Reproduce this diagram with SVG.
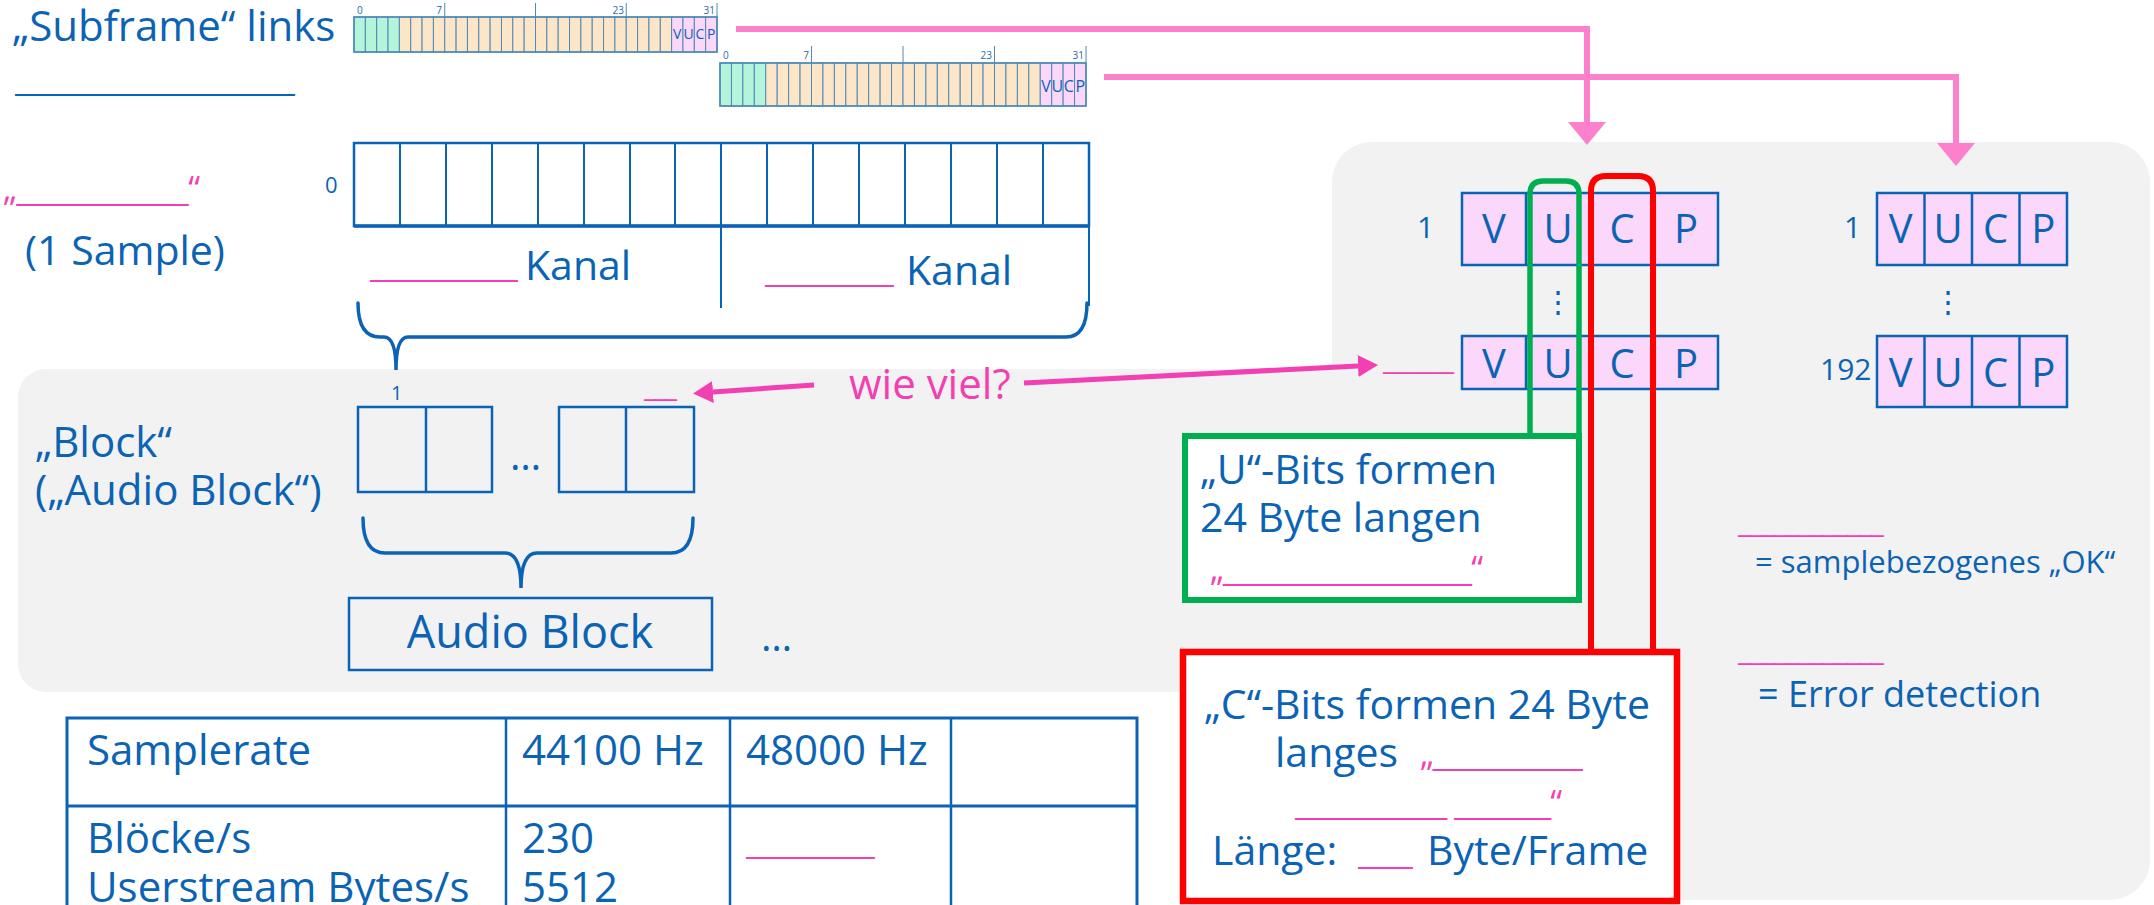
<svg xmlns="http://www.w3.org/2000/svg" width="2154" height="905" viewBox="0 0 2154 905">
<style>
  text { font-family: "Open Sans", "Liberation Sans", sans-serif; }
  .b { fill: #0b63b5; }
  .pk { fill: #f23fb2; }
  .t42 { font-size: 42px; }
  .t41 { font-size: 41px; }
  .t40 { font-size: 40px; }
  .line { fill: none; stroke: #0b63b5; stroke-width: 2.5; }
  .brace { fill: none; stroke: #0b63b5; stroke-width: 3.5; stroke-linecap: round; }
  .cellg { fill: #b4f4da; stroke: #4d8ab8; stroke-width: 1; }
  .cello { fill: #fde6c8; stroke: #4d8ab8; stroke-width: 1; }
  .cellp { fill: #fbd7fa; stroke: #4d8ab8; stroke-width: 1; }
  .sfl { font-size: 10px; fill: #2a6aa8; }
  .vucp { fill: #fbd8fb; stroke: #0b63b5; stroke-width: 2.5; }
  .lt { font-size: 40px; fill: #0b63b5; text-anchor: middle; }
  .toparr { fill: none; stroke: #fc80cc; stroke-width: 6; }
  .magarr { fill: none; stroke: #f23fb2; stroke-width: 5; }
</style>
<defs>
  <marker id="ahTop" markerUnits="userSpaceOnUse" markerWidth="24" markerHeight="40" viewBox="0 0 24 40" refX="0" refY="20" orient="auto">
    <path d="M0,1 L23,20 L0,39 z" fill="#fc80cc"/>
  </marker>
  <marker id="ahMag" markerUnits="userSpaceOnUse" markerWidth="20" markerHeight="22" viewBox="0 0 20 22" refX="0" refY="11" orient="auto">
    <path d="M0,0 L20,11 L0,22 z" fill="#f23fb2"/>
  </marker>
</defs>

<!-- background panels -->
<g id="panels">
  <rect x="18" y="369" width="1400" height="323" rx="28" fill="#f2f2f2"/>
  <rect x="1332" y="142" width="818" height="758" rx="40" fill="#f2f2f2"/>
</g>

<!-- Title -->
<g id="title">
  <text class="b t42" x="12" y="41">„Subframe“ links</text>
  <text class="b" x="15" y="91" font-size="34" textLength="280" lengthAdjust="spacing">_____________________</text>
</g>

<!-- Subframe 1 -->
<g id="subframe1">
  <g>
    <rect class="cellg" x="354" y="17" width="11.344" height="35"/>
    <rect class="cellg" x="365.344" y="17" width="11.344" height="35"/>
    <rect class="cellg" x="376.688" y="17" width="11.344" height="35"/>
    <rect class="cellg" x="388.031" y="17" width="11.344" height="35"/>
    <rect class="cello" x="399.375" y="17" width="11.344" height="35"/>
    <rect class="cello" x="410.719" y="17" width="11.344" height="35"/>
    <rect class="cello" x="422.063" y="17" width="11.344" height="35"/>
    <rect class="cello" x="433.406" y="17" width="11.344" height="35"/>
    <rect class="cello" x="444.75" y="17" width="11.344" height="35"/>
    <rect class="cello" x="456.094" y="17" width="11.344" height="35"/>
    <rect class="cello" x="467.438" y="17" width="11.344" height="35"/>
    <rect class="cello" x="478.781" y="17" width="11.344" height="35"/>
    <rect class="cello" x="490.125" y="17" width="11.344" height="35"/>
    <rect class="cello" x="501.469" y="17" width="11.344" height="35"/>
    <rect class="cello" x="512.813" y="17" width="11.344" height="35"/>
    <rect class="cello" x="524.156" y="17" width="11.344" height="35"/>
    <rect class="cello" x="535.5" y="17" width="11.344" height="35"/>
    <rect class="cello" x="546.844" y="17" width="11.344" height="35"/>
    <rect class="cello" x="558.188" y="17" width="11.344" height="35"/>
    <rect class="cello" x="569.531" y="17" width="11.344" height="35"/>
    <rect class="cello" x="580.875" y="17" width="11.344" height="35"/>
    <rect class="cello" x="592.219" y="17" width="11.344" height="35"/>
    <rect class="cello" x="603.563" y="17" width="11.344" height="35"/>
    <rect class="cello" x="614.906" y="17" width="11.344" height="35"/>
    <rect class="cello" x="626.25" y="17" width="11.344" height="35"/>
    <rect class="cello" x="637.594" y="17" width="11.344" height="35"/>
    <rect class="cello" x="648.938" y="17" width="11.344" height="35"/>
    <rect class="cello" x="660.281" y="17" width="11.344" height="35"/>
    <rect class="cellp" x="671.625" y="17" width="11.344" height="35"/>
    <rect class="cellp" x="682.969" y="17" width="11.344" height="35"/>
    <rect class="cellp" x="694.313" y="17" width="11.344" height="35"/>
    <rect class="cellp" x="705.656" y="17" width="11.344" height="35"/>
  </g>
  <rect x="354" y="17" width="363" height="35" fill="none" stroke="#4d8ab8" stroke-width="1.6"/>
  <g stroke="#4d8ab8" stroke-width="1">
    <line x1="444.75" y1="3" x2="444.75" y2="17"/>
    <line x1="535.5" y1="3" x2="535.5" y2="17"/>
    <line x1="626.25" y1="3" x2="626.25" y2="17"/>
    <line x1="717" y1="3" x2="717" y2="17"/>
  </g>
  <text class="sfl" x="357" y="14">0</text>
  <text class="sfl" x="442" y="14" text-anchor="end">7</text>
  <text class="sfl" x="624" y="14" text-anchor="end">23</text>
  <text class="sfl" x="715" y="14" text-anchor="end">31</text>
  <g font-size="14" fill="#0b63b5" text-anchor="middle">
    <text x="677.3" y="39">V</text>
    <text x="688.6" y="39">U</text>
    <text x="700" y="39">C</text>
    <text x="711.3" y="39">P</text>
  </g>
</g>

<!-- Subframe 2 -->
<g id="subframe2">
  <g>
    <rect class="cellg" x="720" y="63" width="11.438" height="43"/>
    <rect class="cellg" x="731.438" y="63" width="11.438" height="43"/>
    <rect class="cellg" x="742.875" y="63" width="11.438" height="43"/>
    <rect class="cellg" x="754.313" y="63" width="11.438" height="43"/>
    <rect class="cello" x="765.75" y="63" width="11.438" height="43"/>
    <rect class="cello" x="777.188" y="63" width="11.438" height="43"/>
    <rect class="cello" x="788.625" y="63" width="11.438" height="43"/>
    <rect class="cello" x="800.063" y="63" width="11.438" height="43"/>
    <rect class="cello" x="811.5" y="63" width="11.438" height="43"/>
    <rect class="cello" x="822.938" y="63" width="11.438" height="43"/>
    <rect class="cello" x="834.375" y="63" width="11.438" height="43"/>
    <rect class="cello" x="845.813" y="63" width="11.438" height="43"/>
    <rect class="cello" x="857.25" y="63" width="11.438" height="43"/>
    <rect class="cello" x="868.688" y="63" width="11.438" height="43"/>
    <rect class="cello" x="880.125" y="63" width="11.438" height="43"/>
    <rect class="cello" x="891.563" y="63" width="11.438" height="43"/>
    <rect class="cello" x="903" y="63" width="11.438" height="43"/>
    <rect class="cello" x="914.438" y="63" width="11.438" height="43"/>
    <rect class="cello" x="925.875" y="63" width="11.438" height="43"/>
    <rect class="cello" x="937.313" y="63" width="11.438" height="43"/>
    <rect class="cello" x="948.75" y="63" width="11.438" height="43"/>
    <rect class="cello" x="960.188" y="63" width="11.438" height="43"/>
    <rect class="cello" x="971.625" y="63" width="11.438" height="43"/>
    <rect class="cello" x="983.063" y="63" width="11.438" height="43"/>
    <rect class="cello" x="994.5" y="63" width="11.438" height="43"/>
    <rect class="cello" x="1005.938" y="63" width="11.438" height="43"/>
    <rect class="cello" x="1017.375" y="63" width="11.438" height="43"/>
    <rect class="cello" x="1028.813" y="63" width="11.438" height="43"/>
    <rect class="cellp" x="1040.25" y="63" width="11.438" height="43"/>
    <rect class="cellp" x="1051.688" y="63" width="11.438" height="43"/>
    <rect class="cellp" x="1063.125" y="63" width="11.438" height="43"/>
    <rect class="cellp" x="1074.563" y="63" width="11.438" height="43"/>
  </g>
  <rect x="720" y="63" width="366" height="43" fill="none" stroke="#4d8ab8" stroke-width="1.6"/>
  <g stroke="#4d8ab8" stroke-width="1">
    <line x1="811.5" y1="46" x2="811.5" y2="63"/>
    <line x1="903" y1="46" x2="903" y2="63"/>
    <line x1="994.5" y1="46" x2="994.5" y2="63"/>
    <line x1="1086" y1="46" x2="1086" y2="63"/>
  </g>
  <text class="sfl" x="723" y="59">0</text>
  <text class="sfl" x="809" y="59" text-anchor="end">7</text>
  <text class="sfl" x="992" y="59" text-anchor="end">23</text>
  <text class="sfl" x="1084" y="59" text-anchor="end">31</text>
  <g font-size="16" fill="#0b63b5" text-anchor="middle">
    <text x="1046" y="92">V</text>
    <text x="1057.4" y="92">U</text>
    <text x="1068.8" y="92">C</text>
    <text x="1080.3" y="92">P</text>
  </g>
</g>

<!-- Sample label -->
<g id="sample-label">
  <text class="pk" x="3" y="201" font-size="34" textLength="197" lengthAdjust="spacing">„____________“</text>
  <text class="b t41" x="25" y="265">(1 Sample)</text>
</g>

<!-- Sample box (16 cells) -->
<g id="sample-box">
  <text class="b" x="325" y="193" font-size="22">0</text>
  <rect x="354" y="143" width="735" height="83" fill="#ffffff" stroke="#0b63b5" stroke-width="2.5"/>
  <g stroke="#0b63b5" stroke-width="2">
    <line x1="400" y1="143" x2="400" y2="226"/>
    <line x1="446" y1="143" x2="446" y2="226"/>
    <line x1="492" y1="143" x2="492" y2="226"/>
    <line x1="538" y1="143" x2="538" y2="226"/>
    <line x1="584" y1="143" x2="584" y2="226"/>
    <line x1="630" y1="143" x2="630" y2="226"/>
    <line x1="675" y1="143" x2="675" y2="226"/>
    <line x1="721" y1="143" x2="721" y2="226"/>
    <line x1="767" y1="143" x2="767" y2="226"/>
    <line x1="813" y1="143" x2="813" y2="226"/>
    <line x1="859" y1="143" x2="859" y2="226"/>
    <line x1="905" y1="143" x2="905" y2="226"/>
    <line x1="951" y1="143" x2="951" y2="226"/>
    <line x1="997" y1="143" x2="997" y2="226"/>
    <line x1="1043" y1="143" x2="1043" y2="226"/>
  </g>
  <line x1="354" y1="226" x2="1089" y2="226" stroke="#0b63b5" stroke-width="3.5"/>
  <line x1="721" y1="226" x2="721" y2="308" stroke="#0b63b5" stroke-width="2"/>
  <line x1="1089" y1="226" x2="1089" y2="306" stroke="#0b63b5" stroke-width="2"/>
  <text class="pk" x="370" y="277" font-size="34" textLength="148" lengthAdjust="spacing">___________</text>
  <text class="b t41" x="525" y="280">Kanal</text>
  <text class="pk" x="765" y="282" font-size="34" textLength="129" lengthAdjust="spacing">__________</text>
  <text class="b t41" x="906" y="285">Kanal</text>
</g>

<!-- Brace under sample -->
<g id="brace-sample">
  <path class="brace" d="M358,303 Q358,337 380,337 L384,337 Q396,337 396,370 Q396,337 408,337 L1066,337 Q1087,337 1087,303"/>
</g>

<!-- Block -->
<g id="block-label">
  <text class="b t42" x="35" y="457">„Block“</text>
  <text class="b t42" x="35" y="505">(„Audio Block“)</text>
</g>

<g id="block">
  <text class="b" x="391" y="400" font-size="20">1</text>
  <rect class="line" x="358" y="407" width="134" height="85"/>
  <line class="line" x1="426" y1="407" x2="426" y2="492"/>
  <text class="b t40" x="510" y="470">…</text>
  <rect class="line" x="559" y="407" width="135" height="85"/>
  <line class="line" x1="626" y1="407" x2="626" y2="492"/>
  <text class="pk" x="644" y="397" font-size="28" textLength="33" lengthAdjust="spacing">___</text>
</g>

<g id="brace-block">
  <path class="brace" d="M363,518 Q363,553 385,553 L505,553 Q521,553 521,588 Q521,553 537,553 L671,553 Q693,553 693,518"/>
</g>

<g id="audio-block">
  <rect class="line" x="349" y="598" width="363" height="72"/>
  <text class="b" x="530" y="648" font-size="45" text-anchor="middle">Audio Block</text>
  <text class="b t40" x="761" y="651">…</text>
</g>

<!-- wie viel -->
<g id="wie-viel">
  <text class="pk" x="849" y="399" font-size="42">wie viel?</text>
</g>

<!-- Right group: channel 1 -->
<g id="vucp-left">
  <text class="b" x="1417" y="238" font-size="30">1</text>
  <rect class="vucp" x="1462" y="193" width="256" height="72"/>
  <line class="line" x1="1526" y1="193" x2="1526" y2="265"/>
  <line class="line" x1="1590" y1="193" x2="1590" y2="265"/>
  <line class="line" x1="1654" y1="193" x2="1654" y2="265"/>
  <text class="lt" x="1494" y="243">V</text>
  <text class="lt" x="1558" y="243">U</text>
  <text class="lt" x="1622" y="243">C</text>
  <text class="lt" x="1686" y="243">P</text>
  <text x="1558" y="312" font-family="DejaVu Sans, sans-serif" font-size="30" fill="#0b63b5" text-anchor="middle">⋮</text>
  <text class="pk" x="1383" y="370" font-size="28" textLength="71" lengthAdjust="spacing">______</text>
  <rect class="vucp" x="1462" y="336" width="256" height="53"/>
  <line class="line" x1="1526" y1="336" x2="1526" y2="389"/>
  <line class="line" x1="1590" y1="336" x2="1590" y2="389"/>
  <line class="line" x1="1654" y1="336" x2="1654" y2="389"/>
  <text class="lt" x="1494" y="378">V</text>
  <text class="lt" x="1558" y="378">U</text>
  <text class="lt" x="1622" y="378">C</text>
  <text class="lt" x="1686" y="378">P</text>
</g>

<!-- Right group: channel 2 -->
<g id="vucp-right">
  <text class="b" x="1844" y="238" font-size="30">1</text>
  <rect class="vucp" x="1877" y="193" width="190" height="72"/>
  <line class="line" x1="1924.5" y1="193" x2="1924.5" y2="265"/>
  <line class="line" x1="1972" y1="193" x2="1972" y2="265"/>
  <line class="line" x1="2019.5" y1="193" x2="2019.5" y2="265"/>
  <text class="lt" x="1900.7" y="243">V</text>
  <text class="lt" x="1948.2" y="243">U</text>
  <text class="lt" x="1995.7" y="243">C</text>
  <text class="lt" x="2043.2" y="243">P</text>
  <text x="1948" y="312" font-family="DejaVu Sans, sans-serif" font-size="30" fill="#0b63b5" text-anchor="middle">⋮</text>
  <text class="b" x="1820" y="380" font-size="30">192</text>
  <rect class="vucp" x="1877" y="336" width="190" height="71"/>
  <line class="line" x1="1924.5" y1="336" x2="1924.5" y2="407"/>
  <line class="line" x1="1972" y1="336" x2="1972" y2="407"/>
  <line class="line" x1="2019.5" y1="336" x2="2019.5" y2="407"/>
  <text class="lt" x="1900.7" y="387">V</text>
  <text class="lt" x="1948.2" y="387">U</text>
  <text class="lt" x="1995.7" y="387">C</text>
  <text class="lt" x="2043.2" y="387">P</text>
</g>

<!-- U bits (green) -->
<g id="u-bits">
  <path d="M1530,434 L1530,194 Q1530,181 1543,181 L1566,181 Q1579,181 1579,194 L1579,434" fill="none" stroke="#00b050" stroke-width="5.5"/>
  <rect x="1185" y="436" width="394" height="164" fill="#ffffff" stroke="#00b050" stroke-width="6"/>
  <text class="b t41" x="1200" y="484">„U“-Bits formen</text>
  <text class="b t41" x="1200" y="532">24 Byte langen</text>
  <text class="pk" x="1210" y="581" font-size="34" textLength="273" lengthAdjust="spacing">„__________________“</text>
</g>

<!-- C bits (red) -->
<g id="c-bits">
  <path d="M1591,649 L1591,191 Q1591,176 1606,176 L1638,176 Q1653,176 1653,191 L1653,649" fill="none" stroke="#ff0000" stroke-width="6"/>
  <rect x="1183" y="652" width="494" height="249" fill="#ffffff" stroke="#ff0000" stroke-width="6.5"/>
  <text class="b t41" x="1427" y="719" text-anchor="middle">„C“-Bits formen 24 Byte</text>
  <text class="b t41" x="1275" y="767">langes</text>
  <text class="pk" x="1420" y="766" font-size="34" textLength="163" lengthAdjust="spacing">„___________</text>
  <text class="pk" x="1295" y="815" font-size="34" textLength="267" lengthAdjust="spacing">___________ _______“</text>
  <text class="b t41" x="1212" y="865">Länge:</text>
  <text class="pk" x="1358" y="864" font-size="34" textLength="55" lengthAdjust="spacing">____</text>
  <text class="b t41" x="1427" y="865">Byte/Frame</text>
</g>

<!-- Legend right -->
<g id="legend">
  <text class="pk" x="1738" y="533" font-size="30" textLength="146" lengthAdjust="spacing">____________</text>
  <text class="b" x="1755" y="573" font-size="31">= samplebezogenes „OK“</text>
  <text class="pk" x="1738" y="661" font-size="30" textLength="146" lengthAdjust="spacing">____________</text>
  <text class="b" x="1758" y="707" font-size="36">= Error detection</text>
</g>

<!-- Table -->
<g id="table">
  <rect x="67" y="718" width="1070" height="200" fill="none" stroke="#0b63b5" stroke-width="3"/>
  <g stroke="#0b63b5" stroke-width="2.5">
    <line x1="506" y1="718" x2="506" y2="905"/>
    <line x1="730" y1="718" x2="730" y2="905"/>
    <line x1="951" y1="718" x2="951" y2="905"/>
    <line x1="67" y1="806" x2="1137" y2="806" stroke-width="3"/>
  </g>
  <text class="b t42" x="87" y="765">Samplerate</text>
  <text class="b t42" x="522" y="765">44100 Hz</text>
  <text class="b t42" x="746" y="765">48000 Hz</text>
  <text class="b t42" x="87" y="853">Blöcke/s</text>
  <text class="b t42" x="87" y="902">Userstream Bytes/s</text>
  <text class="b t42" x="522" y="853">230</text>
  <text class="b t42" x="522" y="902">5512</text>
  <text class="pk" x="746" y="854" font-size="34" textLength="129" lengthAdjust="spacing">__________</text>
</g>

<!-- Connectors -->
<g id="connectors">
  <path class="toparr" d="M736,29 L1587,29 L1587,122" marker-end="url(#ahTop)"/>
  <path class="toparr" d="M1104,77 L1956,77 L1956,143" marker-end="url(#ahTop)"/>
  <path class="magarr" d="M814,385 L713,392" marker-end="url(#ahMag)"/>
  <path class="magarr" d="M1024,383 L1358,366" marker-end="url(#ahMag)"/>
</g>
</svg>
